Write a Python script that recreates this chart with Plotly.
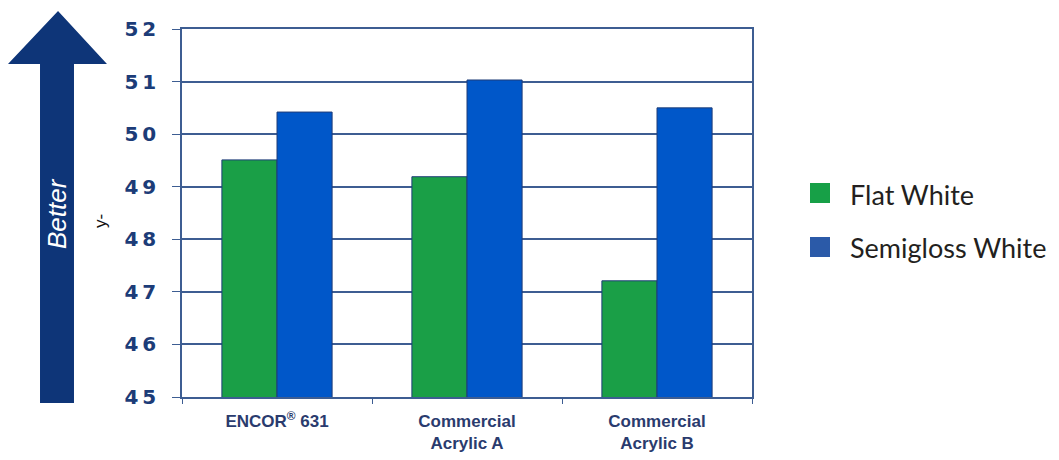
import plotly.graph_objects as go

categories = ["ENCOR<sup>®</sup> 631", "Commercial<br>Acrylic A", "Commercial<br>Acrylic B"]
flat_white = [49.51, 49.19, 47.21]
semigloss_white = [50.42, 51.03, 50.50]
series_names = ["Flat White", "Semigloss White"]
y_ticks = [45, 46, 47, 48, 49, 50, 51, 52]
y_tick_text = ["\u2009".join(str(v)) for v in y_ticks]

# page body has an 8px margin, so figure is drawn in offset coordinates
OFF = 8
W, H = 1059 - OFF, 460 - OFF
L, R, T, B = 182 - OFF, 752 - OFF, 29 - OFF, 397 - OFF

def px(x):
    return (x - OFF - L) / (R - L)

def py(y):
    return (B - (y - OFF)) / (B - T)

GREEN = "#1a9f47"
BLUE = "#0057c9"
NAVY = "#1c3c78"
GRID = "#3d5d92"

fig = go.Figure()
fig.add_trace(go.Bar(x=categories, y=flat_white, name=series_names[0],
                     marker=dict(color=GREEN, line=dict(color="#1f3d78", width=1)),
                     showlegend=False))
fig.add_trace(go.Bar(x=categories, y=semigloss_white, name=series_names[1],
                     marker=dict(color=BLUE, line=dict(color="#1f3d78", width=1)),
                     showlegend=False))

fig.update_layout(
    width=W, height=H,
    margin=dict(l=L, r=W - R, t=T, b=H - B, autoexpand=False),
    plot_bgcolor="white", paper_bgcolor="white",
    barmode="group", bargap=0.42, bargroupgap=0,
)

fig.update_yaxes(
    range=[45, 52], tickvals=y_ticks, ticktext=y_tick_text,
    showgrid=True, gridcolor=GRID, gridwidth=1.5,
    showline=True, linecolor=GRID, linewidth=1.5, mirror=True,
    ticks="outside", ticklen=8, tickcolor=GRID, tickwidth=1,
    ticklabelstandoff=12, automargin=False,
    tickfont=dict(family="DejaVu Sans", size=20, color=NAVY, weight="bold"),
    zeroline=False,
)
fig.update_xaxes(
    showline=True, linecolor=GRID, linewidth=1.5, mirror=True,
    ticks="outside", ticklen=5, tickcolor=GRID, tickson="boundaries",
    ticklabelstandoff=8, automargin=False,
    tickfont=dict(family="Liberation Sans", size=17, color="#2a3b6e", weight="bold"),
)

# Big "Better" arrow
pts = [(58, 11), (107, 64), (74, 64), (74, 403), (40, 403), (40, 64), (8, 64)]
path = "M " + " L ".join(f"{px(x):.4f},{py(y):.4f}" for x, y in pts) + " Z"
fig.add_shape(type="path", path=path, xref="paper", yref="paper",
              fillcolor="#0e3578", line=dict(width=0), layer="above")
fig.add_annotation(text="Better", x=px(57), y=py(214), xref="paper", yref="paper",
                   xanchor="center", yanchor="middle",
                   showarrow=False, textangle=-90,
                   font=dict(family="Liberation Sans", size=26, color="white", style="italic"))
fig.add_annotation(text="y-", x=px(100), y=py(221), xref="paper", yref="paper",
                   xanchor="center", yanchor="middle",
                   showarrow=False, textangle=-90,
                   font=dict(family="Liberation Sans", size=17, color="#111111"))

# Legend
legend_items = [(series_names[0], "#17a047", 193), (series_names[1], "#2b5aa8", 247)]
for name, col, cy in legend_items:
    fig.add_shape(type="rect", xref="paper", yref="paper",
                  x0=px(810), x1=px(830), y0=py(cy - 10), y1=py(cy + 10),
                  fillcolor=col, line=dict(width=0))
    fig.add_annotation(text=name, x=px(848), y=py(cy + 1), xref="paper", yref="paper",
                       xanchor="left", yanchor="middle", showarrow=False,
                       font=dict(family="Lato", size=27, color="#231f20"))

fig.write_html("out.html")
